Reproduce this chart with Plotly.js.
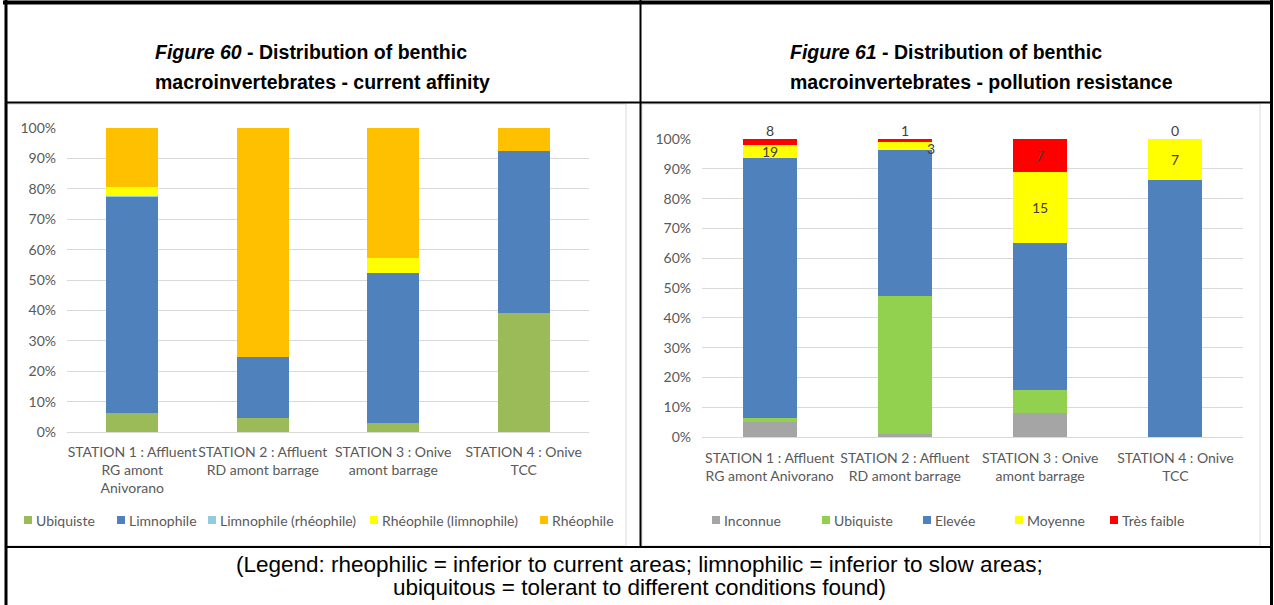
<!DOCTYPE html>
<html><head><meta charset="utf-8">
<script src="https://cdn.plot.ly/plotly-3.0.1.min.js"></script>
<style>html,body{margin:0;padding:0;background:#fff}#chart{width:1274px;height:605px}</style>
</head><body><div id="chart"></div>
<script>
// ---------- DATA ----------
const stationsLeft = ['STATION 1 : Affluent<br>RG amont<br>Anivorano', 'STATION 2 : Affluent<br>RD amont barrage', 'STATION 3 : Onive<br>amont barrage', 'STATION 4 : Onive<br>TCC'];
const stationsRight = ['STATION 1 : Affluent<br>RG amont Anivorano', 'STATION 2 : Affluent<br>RD amont barrage', 'STATION 3 : Onive<br>amont barrage', 'STATION 4 : Onive<br>TCC'];

// Figure 60 - current affinity (% of individuals)
const ubiquisteL = [6.2, 4.7, 3.1, 39.3];
const limnophile = [71.0, 19.9, 49.3, 53.1];
const limnoRheo = [0.5, 0, 0, 0];
const rheoLimno = [3.0, 0, 4.9, 0];
const rheophile = [19.3, 75.4, 42.7, 7.6];
const namesLeft = ['Ubiquiste', 'Limnophile', 'Limnophile (rhéophile)', 'Rhéophile (limnophile)', 'Rhéophile'];
const colorsLeft = ['#9BBB59', '#4F81BD', '#93CDDD', '#FFFF00', '#FFC000'];

// Figure 61 - pollution resistance (counts, shown as % of total)
const inconnue = [21, 1, 5, 0];
const ubiquisteR = [6, 51, 5, 0];
const elevee = [362, 54, 31, 44];
const moyenne = [19, 3, 15, 7];
const tresFaible = [8, 1, 7, 0];
const namesRight = ['Inconnue', 'Ubiquiste', 'Elevée', 'Moyenne', 'Très faible'];
const colorsRight = ['#A5A5A5', '#92D050', '#4F81BD', '#FFFF00', '#FF0000'];

const titleLeft = ['<b><i>Figure 60</i> - Distribution of benthic</b>', '<b>macroinvertebrates - current affinity</b>'];
const titleRight = ['<b><i>Figure 61</i> - Distribution of benthic</b>', '<b>macroinvertebrates - pollution resistance</b>'];
const caption = ['(Legend: rheophilic = inferior to current areas; limnophilic = inferior to slow areas;', 'ubiquitous = tolerant to different conditions found)'];

// ---------- LAYOUT HELPERS ----------
const W = 1274, H = 605;
const px = x => x / W;
const py = y => 1 - y / H;
const FONT = 'Lato, Carlito, Calibri, sans-serif';
const TXT = '#595959';
const ARIAL = '"Liberation Sans", Arial, sans-serif';

const leftSeries = [ubiquisteL, limnophile, limnoRheo, rheoLimno, rheophile];
const rightSeries = [inconnue, ubiquisteR, elevee, moyenne, tresFaible];

const traces = [];
leftSeries.forEach((s, i) => traces.push({
  type: 'bar', x: stationsLeft, y: s, name: namesLeft[i], xaxis: 'x', yaxis: 'y',
  marker: {color: colorsLeft[i], line: {width: 0}}, showlegend: false
}));
rightSeries.forEach((s, i) => traces.push({
  type: 'bar', x: stationsRight, y: s, name: namesRight[i], xaxis: 'x2', yaxis: 'y2',
  marker: {color: colorsRight[i], line: {width: 0}}, showlegend: false
}));

const shapes = [];
const annotations = [];

// data labels (Moyenne & Très faible) on right chart
stationsRight.forEach((st, i) => {
  const total = rightSeries.reduce((a, s) => a + s[i], 0);
  const base = (inconnue[i] + ubiquisteR[i] + elevee[i]) / total * 100;
  const moyPct = moyenne[i] / total * 100;
  const tfPct = tresFaible[i] / total * 100;
  const small = moyPct < 4;
  annotations.push({xref: 'x2', yref: 'y2', x: st, y: base + moyPct / 2, text: String(moyenne[i]),
    showarrow: false, xshift: small ? 26 : 0, yshift: small ? -3 : 0,
    font: {family: FONT, size: 14, color: '#404040'}});
  const tfSmall = tfPct < 4;
  annotations.push({xref: 'x2', yref: 'y2', x: st, y: tfSmall ? 100 : base + moyPct + tfPct / 2,
    text: String(tresFaible[i]), showarrow: false, yshift: tfSmall ? 8 : 0,
    font: {family: FONT, size: 14, color: '#404040'}});
});

// legends (drawn as squares + text)
const legLeftX = [24, 117, 208, 370, 540];
const legRightX = [712, 822, 923, 1015, 1110];
const legY = 520;
function addLegend(names, colors, xs) {
  names.forEach((n, i) => {
    shapes.push({type: 'rect', xref: 'paper', yref: 'paper', x0: px(xs[i]), x1: px(xs[i] + 8),
      y0: py(legY + 4), y1: py(legY - 4), fillcolor: colors[i], line: {width: 0}});
    annotations.push({xref: 'paper', yref: 'paper', x: px(xs[i] + 10), y: py(legY), xanchor: 'left',
      yanchor: 'middle', text: n, showarrow: false, font: {family: FONT, size: 14, color: TXT}});
  });
}
addLegend(namesLeft, colorsLeft, legLeftX);
addLegend(namesRight, colorsRight, legRightX);

// titles
[[titleLeft, 153], [titleRight, 788]].forEach(([t, x]) => {
  t.forEach((line, j) => annotations.push({xref: 'paper', yref: 'paper', x: px(x), y: py(52 + j * 29.5),
    xanchor: 'left', yanchor: 'middle', text: line, showarrow: false,
    font: {family: ARIAL, size: 19.5, color: '#000'}}));
});
// caption
caption.forEach((line, j) => annotations.push({xref: 'paper', yref: 'paper', x: px(639), y: py(564 + j * 23),
  xanchor: 'center', yanchor: 'middle', text: line, showarrow: false,
  font: {family: ARIAL, size: 22.5, color: '#000'}}));

// chart area borders (light gray)
shapes.push({type: 'rect', xref: 'paper', yref: 'paper', x0: px(7), x1: px(626), y0: py(546), y1: py(104),
  line: {color: '#D9D9D9', width: 1}, layer: 'below'});
shapes.push({type: 'rect', xref: 'paper', yref: 'paper', x0: px(642), x1: px(1260), y0: py(546), y1: py(104),
  line: {color: '#D9D9D9', width: 1}, layer: 'below'});
// table borders (black)
const blk = (x0, y0, x1, y1, w) => shapes.push({type: 'line', xref: 'paper', yref: 'paper',
  x0: px(x0), x1: px(x1), y0: py(y0), y1: py(y1), line: {color: '#000', width: w}});
blk(3, 2.5, 1273, 2.5, 4);
blk(6, 0, 6, 605, 3);
blk(1271.5, 0, 1271.5, 605, 3);
blk(640.5, 0, 640.5, 547, 2);
blk(5, 102.5, 1272, 102.5, 2);
blk(5, 547, 1272, 547, 2);

const yax = (dom) => ({domain: dom, range: [0, 100], dtick: 10, ticksuffix: '%', fixedrange: true,
  gridcolor: '#D9D9D9', gridwidth: 1, zeroline: true, zerolinecolor: '#D9D9D9', zerolinewidth: 1,
  showline: false, ticks: '', ticklabelstandoff: 10, tickfont: {family: FONT, size: 14, color: TXT}});
const xax = (dom, anchor, standoff) => ({domain: dom, anchor: anchor, type: 'category', showgrid: false,
  zeroline: false, showline: false, ticks: '', ticklabelstandoff: standoff, tickangle: 0, fixedrange: true,
  tickfont: {family: FONT, size: 14, color: TXT}});

const layout = {
  width: W, height: H, margin: {l: 0, r: 0, t: 0, b: 0},
  paper_bgcolor: '#fff', plot_bgcolor: 'rgba(0,0,0,0)',
  barmode: 'stack', barnorm: 'percent', bargap: 0.6, showlegend: false,
  xaxis: xax([px(67), px(589)], 'y', 10),
  yaxis: yax([py(432), py(128)]),
  xaxis2: xax([px(702), px(1243)], 'y2', 11),
  yaxis2: Object.assign(yax([py(437), py(139)]), {anchor: 'x2'}),
  shapes: shapes, annotations: annotations,
  font: {family: FONT, color: TXT}
};
layout.yaxis.anchor = 'x';

Plotly.newPlot('chart', traces, layout, {displayModeBar: false, staticPlot: true});
</script>
</body></html>
